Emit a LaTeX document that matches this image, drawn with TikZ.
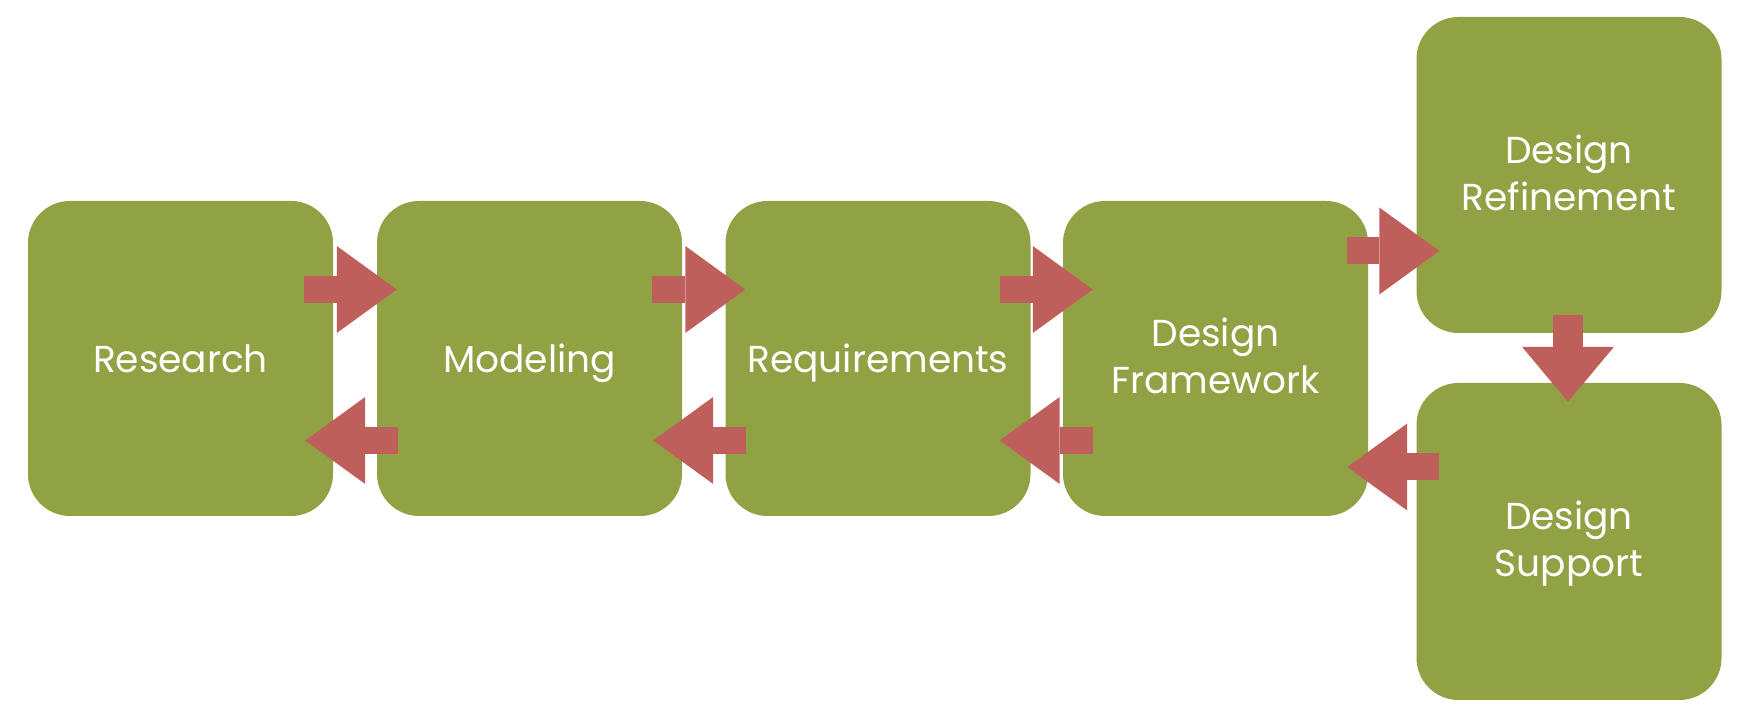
\documentclass[tikz,border=0pt]{standalone}
\usepackage{fontspec}
\setmainfont{Poppins}
\usetikzlibrary{arrows.meta}
\definecolor{boxgreen}{HTML}{90A243}
\definecolor{arrowred}{HTML}{BE5F5B}
\tikzset{
  stage/.style={fill=boxgreen, rounded corners=42pt, minimum width=305pt,
    minimum height=315pt, inner sep=0pt, text=white, align=center,
    text depth=0pt, font=\fontsize{37.5}{47}\selectfont},
  twoline/.style={text depth=5pt},
  blockarrow/.style={draw=arrowred, line width=27pt,
    -{Triangle[length=60pt 0 0, width=87pt 0 0, line width=0pt 0, fill=arrowred]}},
  downarrow/.style={draw=arrowred, line width=30pt,
    -{Triangle[length=55pt 0 0, width=92pt 0 0, line width=0pt 0, fill=arrowred]}}
}
\begin{document}
\begin{tikzpicture}[x=1pt,y=1pt]
\useasboundingbox (0,0) rectangle (1753,719);
\node[stage] (research) at (180.5,360.5) {Research};
\node[stage] (modeling) at (529.5,360.5) {Modeling};
\node[stage] (requirements) at (878,360.5) {Requirements};
\node[stage, twoline] (framework) at (1215.5,360.5) {Design\\Framework};
\node[stage, twoline, minimum height=316pt] (refinement) at (1569,544) {Design\\Refinement};
\node[stage, twoline, minimum height=317pt] (support) at (1569,177.5) {Design\\Support};
% forward arrows
\draw[blockarrow] ([shift={(-29,69)}]research.east) -- ([shift={(20,69)}]modeling.west);
\draw[blockarrow] ([shift={(-30,69)}]modeling.east) -- ([shift={(20,69)}]requirements.west);
\draw[blockarrow] ([shift={(-31,69)}]requirements.east) -- ([shift={(30,69)}]framework.west);
% backward arrows
\draw[blockarrow] ([shift={(21,-82)}]modeling.west) -- ([shift={(-28,-82)}]research.east);
\draw[blockarrow] ([shift={(21,-82)}]requirements.west) -- ([shift={(-29,-82)}]modeling.east);
\draw[blockarrow] ([shift={(30,-82)}]framework.west) -- ([shift={(-31,-82)}]requirements.east);
% right column
\draw[blockarrow] ([shift={(-21,107.5)}]framework.east) -- ([shift={(23,-76)}]refinement.west);
\draw[downarrow] ([shift={(-1,18)}]refinement.south) -- ([shift={(-1,-19)}]support.north);
\draw[blockarrow] ([shift={(23,74.5)}]support.west) -- ([shift={(-21,-108.5)}]framework.east);
\end{tikzpicture}
\end{document}
